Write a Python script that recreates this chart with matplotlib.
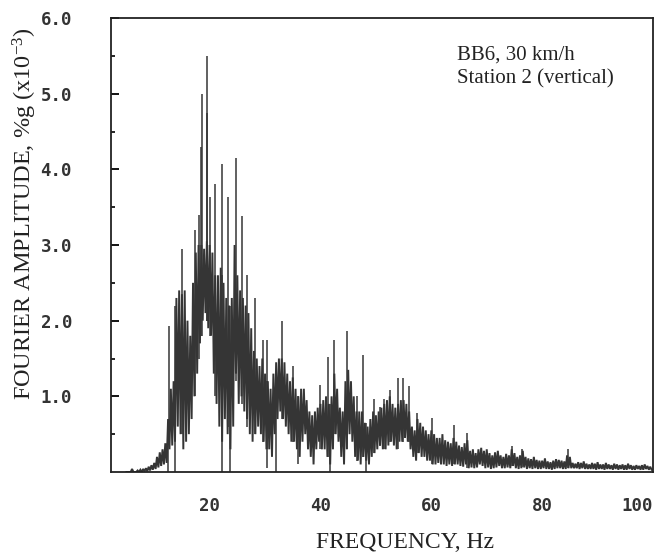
import numpy as np
import matplotlib
matplotlib.use("Agg")
import matplotlib.pyplot as plt

# ---------------- data ----------------
# Fourier amplitude band, sampled in 0.5 Hz bins: upper and lower excursion per bin
bin_start = 5.0
bin_step = 0.5
band_hi_05_25 = [0, 0, 0.04, 0, 0.02, 0.03, 0.04, 0.05, 0.07, 0.09,
                 0.12, 0.2, 0.26, 0.3, 0.38, 0.7, 1.1, 1.2, 2.3, 2.4,
                 2.35, 2.4, 2.0, 1.8, 2.5, 2.9, 3.0, 3.0, 2.95, 3.05,
                 3.0, 2.9, 2.6, 2.6, 2.7, 2.5, 2.3, 2.2, 2.3, 3.0]
band_lo_05_25 = [0, 0, 0, 0, 0, 0, 0.01, 0.01, 0.02, 0.03,
                 0.04, 0.06, 0.08, 0.1, 0.12, 0.3, 0.35, 0.4, 0.6, 0.5,
                 0.3, 0.4, 0.5, 0.7, 1.0, 1.3, 1.7, 2.0, 2.1, 1.9,
                 1.8, 1.3, 0.9, 0.6, 0.4, 0.7, 0.5, 0.3, 0.6, 1.3]
band_hi_25_45 = [2.6, 2.4, 2.3, 2.2, 2.1, 1.9, 1.6, 1.5, 1.4, 1.5,
                 1.3, 1.2, 1.1, 1.3, 1.45, 1.5, 1.5, 1.45, 1.3, 1.2,
                 1.25, 1.1, 1.0, 1.1, 1.1, 0.95, 0.8, 0.75, 0.8, 0.85,
                 0.9, 0.95, 1.0, 0.9, 1.0, 1.3, 1.1, 0.85, 0.8, 1.2]
band_lo_25_45 = [0.9, 1.0, 0.8, 0.7, 0.5, 0.4, 0.5, 0.6, 0.5, 0.4,
                 0.3, 0.3, 0.2, 0.5, 0.7, 0.8, 0.7, 0.6, 0.5, 0.4,
                 0.4, 0.3, 0.2, 0.4, 0.5, 0.3, 0.2, 0.1, 0.3, 0.4,
                 0.3, 0.3, 0.2, 0.1, 0.3, 0.5, 0.4, 0.2, 0.1, 0.3]
band_hi_45_70 = [1.35, 1.2, 1.0, 0.8, 0.8, 0.8, 0.65, 0.6, 0.7, 0.8,
                 0.75, 0.8, 0.85, 0.9, 0.95, 1.0, 0.9, 0.85, 0.9, 0.95,
                 0.95, 0.9, 0.8, 0.6, 0.55, 0.7, 0.65, 0.6, 0.55, 0.5,
                 0.55, 0.5, 0.45, 0.45, 0.5, 0.42, 0.4, 0.38, 0.45, 0.4,
                 0.35, 0.33, 0.38, 0.42, 0.28, 0.3, 0.25, 0.3, 0.32, 0.28]
band_lo_45_70 = [0.5, 0.4, 0.2, 0.15, 0.1, 0.2, 0.15, 0.1, 0.2, 0.25,
                 0.3, 0.35, 0.3, 0.3, 0.35, 0.4, 0.35, 0.3, 0.4, 0.4,
                 0.45, 0.4, 0.3, 0.2, 0.15, 0.25, 0.2, 0.2, 0.15, 0.15,
                 0.1, 0.1, 0.12, 0.1, 0.1, 0.08, 0.1, 0.08, 0.1, 0.1,
                 0.08, 0.07, 0.1, 0.05, 0.06, 0.05, 0.06, 0.1, 0.08, 0.05]
band_hi_70_100 = [0.3, 0.25, 0.22, 0.26, 0.28, 0.22, 0.2, 0.24, 0.22, 0.3,
                  0.25, 0.2, 0.22, 0.28, 0.2, 0.18, 0.17, 0.2, 0.16, 0.15,
                  0.15, 0.18, 0.14, 0.13, 0.15, 0.17, 0.16, 0.15, 0.14, 0.22,
                  0.2, 0.12, 0.11, 0.13, 0.12, 0.14, 0.11, 0.1, 0.12, 0.11,
                  0.13, 0.1, 0.1, 0.12, 0.1, 0.09, 0.11, 0.1, 0.09, 0.1,
                  0.09, 0.11, 0.09, 0.08, 0.09, 0.08, 0.09, 0.1, 0.08, 0.07]
band_lo_70_100 = [0.06, 0.04, 0.05, 0.06, 0.08, 0.05, 0.05, 0.06, 0.05, 0.08,
                  0.05, 0.04, 0.05, 0.06, 0.04, 0.05, 0.04, 0.05, 0.04, 0.04,
                  0.05, 0.04, 0.04, 0.03, 0.04, 0.05, 0.05, 0.04, 0.04, 0.05,
                  0.05, 0.05, 0.05, 0.04, 0.05, 0.04, 0.04, 0.04, 0.04, 0.03,
                  0.04, 0.04, 0.03, 0.04, 0.04, 0.03, 0.04, 0.03, 0.04, 0.03,
                  0.03, 0.04, 0.03, 0.03, 0.04, 0.03, 0.03, 0.04, 0.03, 0.03]

# isolated narrow peaks / dips: frequency, lower end, upper end
spike_freq = [12.4, 12.6, 13.7, 15.1, 17.3, 18.0, 18.4, 18.6, 19.5, 19.6,
              20.0, 20.9, 22.2, 22.3, 23.4, 23.6, 24.7, 25.9, 26.7, 28.1,
              29.6, 30.3, 30.4, 31.9, 33.0, 35.1, 35.9, 40.0, 41.4, 41.8,
              42.5, 44.7, 46.5, 47.6, 48.3, 49.7, 50.8, 51.5, 52.6, 53.9,
              54.8, 55.9, 57.5, 60.1, 64.1, 66.5, 74.6, 76.4, 84.7]
spike_low = [0.0, 0.4, 0.0, 0.5, 1.0, 1.5, 1.8, 1.8, 2.0, 2.0,
             1.8, 1.0, 0.0, 0.8, 0.6, 0.0, 1.2, 0.9, 0.6, 0.5,
             0.4, 0.3, 0.05, 0.0, 0.7, 0.4, 0.1, 0.3, 0.2, 0.0,
             0.5, 0.3, 0.15, 0.2, 0.0, 0.25, 0.35, 0.3, 0.4, 0.3,
             0.4, 0.4, 0.25, 0.1, 0.1, 0.05, 0.08, 0.06, 0.05]
spike_high = [0.6, 1.93, 2.2, 2.95, 3.2, 3.4, 4.3, 4.99, 4.74, 5.5,
              3.64, 3.8, 2.6, 4.07, 3.64, 2.2, 4.15, 3.38, 2.6, 2.3,
              1.74, 1.74, 1.2, 1.2, 1.99, 1.4, 1.0, 1.15, 1.52, 0.9,
              1.74, 1.87, 1.0, 1.54, 0.65, 0.97, 0.86, 0.97, 1.08, 1.24,
              1.24, 1.14, 0.78, 0.71, 0.62, 0.51, 0.35, 0.31, 0.3]

y_ticks = [1.0, 2.0, 3.0, 4.0, 5.0, 6.0]
y_ticklabels = ["1.0", "2.0", "3.0", "4.0", "5.0", "6.0"]
x_ticks = [20, 40, 60, 80, 100]
x_ticklabels = ["20", "40", "60", "80", "100"]

# ---------------- build series ----------------
band_hi = np.array(band_hi_05_25 + band_hi_25_45 + band_hi_45_70 + band_hi_70_100)
band_lo = np.array(band_lo_05_25 + band_lo_25_45 + band_lo_45_70 + band_lo_70_100)
bins = bin_start + bin_step * np.arange(len(band_hi))
freq = np.column_stack([bins, bins + bin_step / 2]).ravel()
amp = np.column_stack([band_hi, band_lo]).ravel()

# ---------------- figure ----------------
plt.rcParams['mathtext.fontset'] = 'custom'
plt.rcParams['mathtext.rm'] = 'Liberation Serif'
plt.rcParams['mathtext.it'] = 'Liberation Serif:italic'

W, H = 667, 559
fig = plt.figure(figsize=(W / 100, H / 100), dpi=100)
ax = fig.add_axes([111 / W, 1 - 472 / H, (653 - 111) / W, (472 - 18) / H])

ink = '#353535'
ax.plot(freq, amp, color=ink, lw=1.4, solid_joinstyle='miter')
ax.vlines(spike_freq, spike_low, spike_high, color=ink, lw=1.1)

ax.set_xlim(2.2, 100)
ax.set_ylim(0, 6)

for s in ax.spines.values():
    s.set_linewidth(1.3)
    s.set_color('#222222')

tick_font = dict(family=['DejaVu Sans Mono'], weight='bold', size=12.5, color='#333333')
ax.set_yticks(y_ticks)
ax.set_yticklabels(y_ticklabels, **tick_font)
ax.set_yticks(np.arange(0.5, 6.0, 1.0), minor=True)
ax.tick_params(axis='y', which='major', direction='in', length=6, width=1.3, pad=28)
ax.tick_params(axis='y', which='minor', direction='in', length=3, width=1.2)
ax.set_xticks(x_ticks)
ax.set_xticklabels(x_ticklabels, **tick_font)
ax.tick_params(axis='x', which='major', length=0, pad=18)
xl = ax.get_xticklabels()
xl[-1].set_horizontalalignment('right')

serif = ['Liberation Serif', 'DejaVu Serif']
fig.text(405 / W, 1 - 548 / H, 'FREQUENCY, Hz', family=serif, size=17,
         ha='center', va='baseline', color='#222222')
fig.text(32 / W, 1 - 214 / H, r'FOURIER AMPLITUDE, %g (x10$^{-3}$)', family=serif,
         size=17.5, rotation=90, rotation_mode='anchor', ha='center', va='baseline',
         color='#222222')

ax.text((457 - 111) / 542, (472 - 60) / 454, 'BB6, 30 km/h', transform=ax.transAxes,
        family=serif, size=15, ha='left', va='baseline', color='#222222')
ax.text((457 - 111) / 542, (472 - 83) / 454, 'Station 2 (vertical)', transform=ax.transAxes,
        family=serif, size=15, ha='left', va='baseline', color='#222222')

fig.savefig('out.png', dpi=100, facecolor='white')
